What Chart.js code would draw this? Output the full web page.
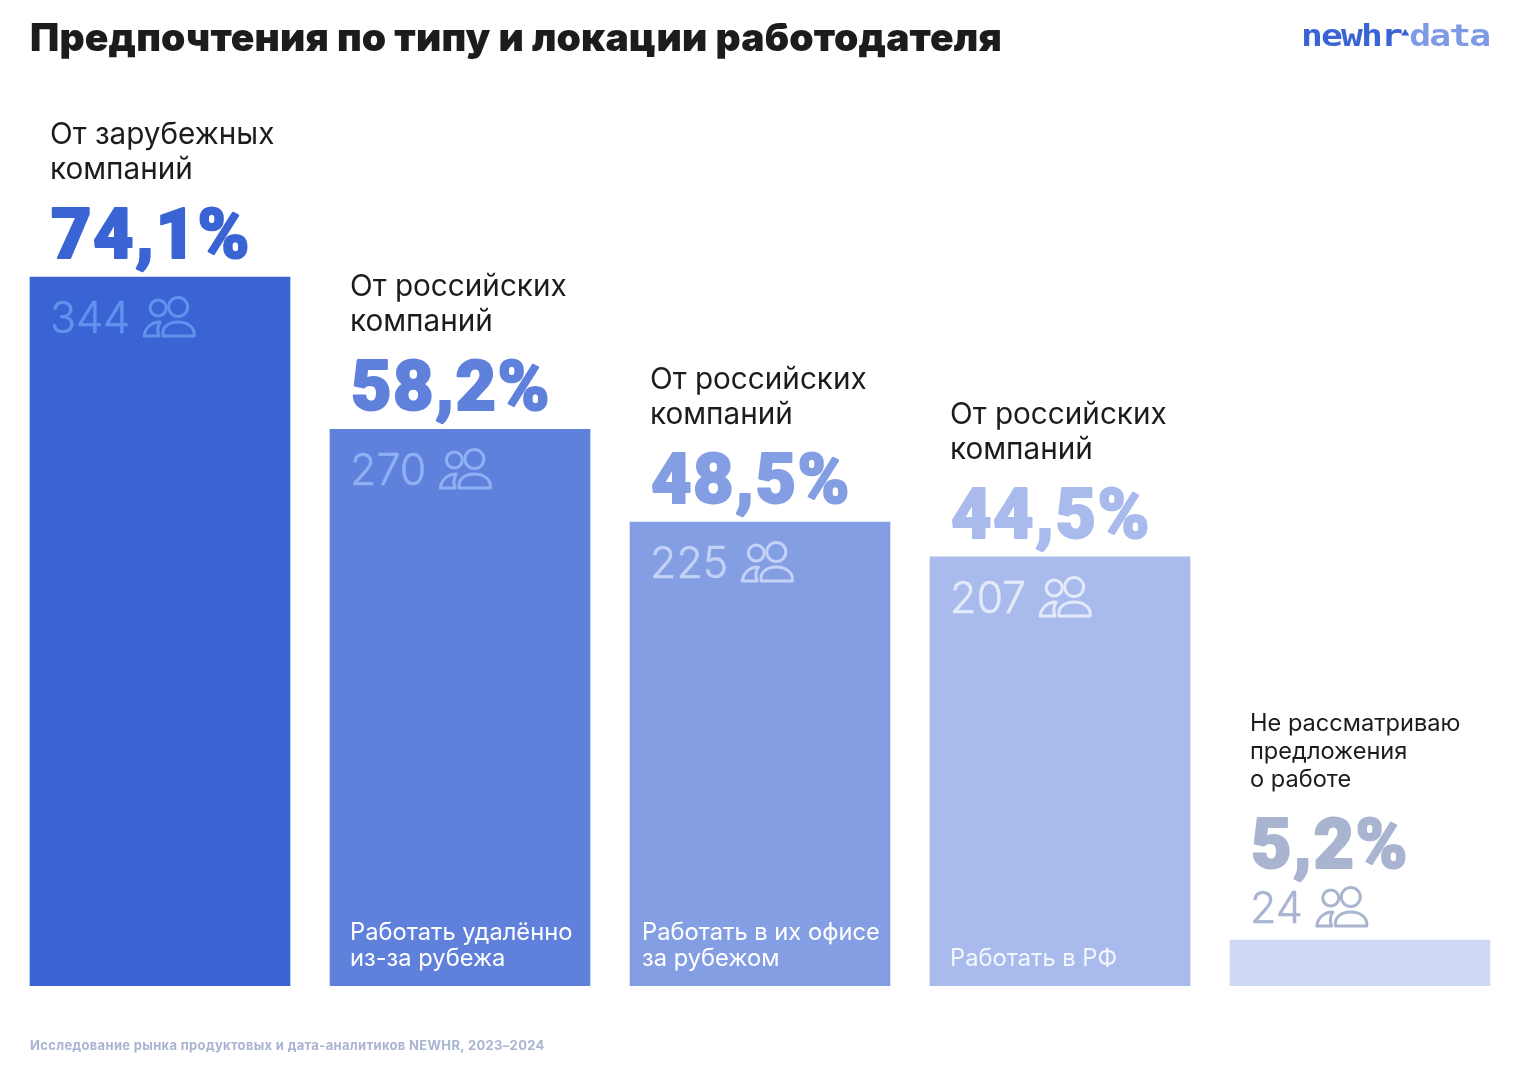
<!DOCTYPE html>
<html lang="ru">
<head>
<meta charset="utf-8">
<title>Предпочтения по типу и локации работодателя</title>
<script src="https://cdn.jsdelivr.net/npm/chart.js@4"></script>
<style>
    html, body { margin: 0; background: #fff; }
    #wrap { position: relative; width: 1520px; height: 1080px; overflow: hidden; }
    canvas { position: absolute; left: 0; top: 0; }
    #titulo { position: absolute; left: 30px; top: 13px; margin: 0; font: 900 39px Inter, sans-serif; letter-spacing: 0.17px; color: #1c1c1c; white-space: nowrap; }
    #rodape { position: absolute; left: 30px; top: 1037px; font: 700 13px Inter, sans-serif; letter-spacing: 0.33px; color: #a9b4d1; white-space: nowrap; }
    #logo { position: absolute; left: 1301px; top: 18px; font: 700 30px "DejaVu Sans Mono", monospace; letter-spacing: -1.5px; color: #3a64d4; white-space: nowrap; transform: scaleX(1.21); transform-origin: left top; }
    #logo span { color: #7f9ae4; }
    #logo i { font-style: normal; font-size: 11px; vertical-align: 11px; letter-spacing: 0; }
</style>
</head>
<body>
<div id="wrap">
    <canvas id="myChart" width="1520" height="1080"></canvas>
    <h1 id="titulo">Предпочтения по типу и локации работодателя</h1>
    <div id="logo">newhr<i>▲</i><span>data</span></div>
    <div id="rodape">Исследование рынка продуктовых и дата-аналитиков NEWHR, 2023–2024</div>
</div>
<script>
// Dados
var categorias = ['Работать из РФ', 'Работать удалённо из-за рубежа', 'Работать в их офисе за рубежом', 'Работать в РФ', 'Не рассматриваю'];
var percentuais = ['74,1%', '58,2%', '48,5%', '44,5%', '5,2%'];
var contagens = [344, 270, 225, 207, 24];
// Altura das barras como aparece na imagem (as duas últimas não seguem exatamente o rótulo)
var alturas = [74.1, 58.2, 48.5, 44.85, 4.8];
var titulosTopo = [
    ['От зарубежных', 'компаний'],
    ['От российских', 'компаний'],
    ['От российских', 'компаний'],
    ['От российских', 'компаний'],
    ['Не рассматриваю', 'предложения', 'о работе']
];
var textosBarra = [
    [],
    ['Работать удалённо', 'из-за рубежа'],
    ['Работать в их офисе', 'за рубежом'],
    ['Работать в РФ'],
    []
];
var coresBarra = ['#3a64d4', '#5f81db', '#849ee3', '#a9bbec', '#cfd9f4'];
var coresPercentual = ['#3a64d4', '#5f81db', '#849ee3', '#a9bbec', '#a9b4d1'];
var coresContagem = ['#5f93ee', '#8fb0f3', '#c3d2f6', '#e3eafa', '#a9b4d1'];

var FONTE = 'Inter, sans-serif';

// Ícone de duas pessoas
function desenharPessoas(ctx, x, y, cor) {
    ctx.save();
    ctx.strokeStyle = cor;
    ctx.lineWidth = 3;
    ctx.translate(x, y);
    ctx.beginPath();
    ctx.arc(16, -28, 8, 0, Math.PI * 2);
    ctx.stroke();
    ctx.beginPath();
    ctx.arc(36, -29, 9.5, 0, Math.PI * 2);
    ctx.stroke();
    // pessoa da frente
    ctx.beginPath();
    ctx.moveTo(21, 0);
    ctx.bezierCurveTo(19, -9, 27, -14, 36, -14);
    ctx.bezierCurveTo(45, -14, 53, -9, 52, 0);
    ctx.closePath();
    ctx.stroke();
    // pessoa de trás
    ctx.beginPath();
    ctx.moveTo(2, 0);
    ctx.bezierCurveTo(3, -8, 9, -14, 18, -14);
    ctx.bezierCurveTo(15, -9, 15, -4, 17, 0);
    ctx.closePath();
    ctx.stroke();
    ctx.restore();
}

var rotulosBarras = {
    id: 'rotulosBarras',
    afterDatasetsDraw: function (chart) {
        var ctx = chart.ctx;
        var barras = chart.getDatasetMeta(0).data;
        ctx.save();
        ctx.textBaseline = 'alphabetic';
        ctx.lineJoin = 'round';
        barras.forEach(function (barra, i) {
            var esquerda = barra.x - 130;
            var topo = Math.round(barra.y);
            var x = esquerda + 20;
            var pequena = chart.scales.y.getPixelForValue(0) - topo < 100;

            // texto acima da barra
            var linhas = titulosTopo[i];
            var tamanho = pequena ? 23.6 : 29.7;
            var entrelinha = pequena ? 28 : 35;
            var baseTexto = pequena ? topo - 209 : topo - 133;
            ctx.fillStyle = '#1c1c1c';
            ctx.font = '400 ' + tamanho + 'px ' + FONTE;
            linhas.forEach(function (linha, j) {
                ctx.fillText(linha, x, baseTexto + j * entrelinha);
            });

            // percentual (contorno para ficar tão pesado quanto o original)
            var basePct = pequena ? topo - 72 : topo - 19;
            ctx.fillStyle = coresPercentual[i];
            ctx.strokeStyle = coresPercentual[i];
            ctx.lineWidth = 2;
            ctx.font = '900 70px Roboto, ' + FONTE;
            ctx.letterSpacing = '1.5px';
            ctx.fillText(percentuais[i], x + 1, basePct);
            ctx.strokeText(percentuais[i], x + 1, basePct);
            ctx.letterSpacing = '0px';

            // contagem e ícone
            var baseConta = pequena ? topo - 17 : topo + 56;
            ctx.fillStyle = coresContagem[i];
            ctx.strokeStyle = coresContagem[i];
            ctx.lineWidth = 0.5;
            ctx.font = '300 43px ' + FONTE;
            var texto = String(contagens[i]);
            ctx.fillText(texto, x, baseConta);
            ctx.strokeText(texto, x, baseConta);
            var largura = ctx.measureText(texto).width;
            desenharPessoas(ctx, x + largura + 12, baseConta + 3, coresContagem[i]);

            // texto dentro da barra
            var dentro = textosBarra[i];
            var recuo = i === 2 ? 12 : 20;
            ctx.fillStyle = i === 3 ? '#f4f6fd' : '#ffffff';
            ctx.font = '400 23.7px ' + FONTE;
            dentro.forEach(function (linha, j) {
                ctx.fillText(linha, esquerda + recuo, 966 - (dentro.length - 1 - j) * 26);
            });
        });
        ctx.restore();
    }
};

var ctx = document.getElementById('myChart').getContext('2d');
var myChart = new Chart(ctx, {
    type: 'bar',
    data: {
        labels: categorias,
        datasets: [{
            label: 'Предпочтения',
            data: alturas,
            backgroundColor: coresBarra,
            borderWidth: 0,
            barThickness: 260
        }]
    },
    options: {
        responsive: false,
        animation: false,
        layout: { padding: { left: 10, right: 10, top: 125, bottom: 94 } },
        plugins: {
            legend: { display: false },
            tooltip: { enabled: false }
        },
        scales: {
            x: { display: false, grid: { display: false } },
            y: { display: false, min: 0, max: 90, grid: { display: false } }
        }
    },
    plugins: [rotulosBarras]
});
</script>
</body>
</html>
